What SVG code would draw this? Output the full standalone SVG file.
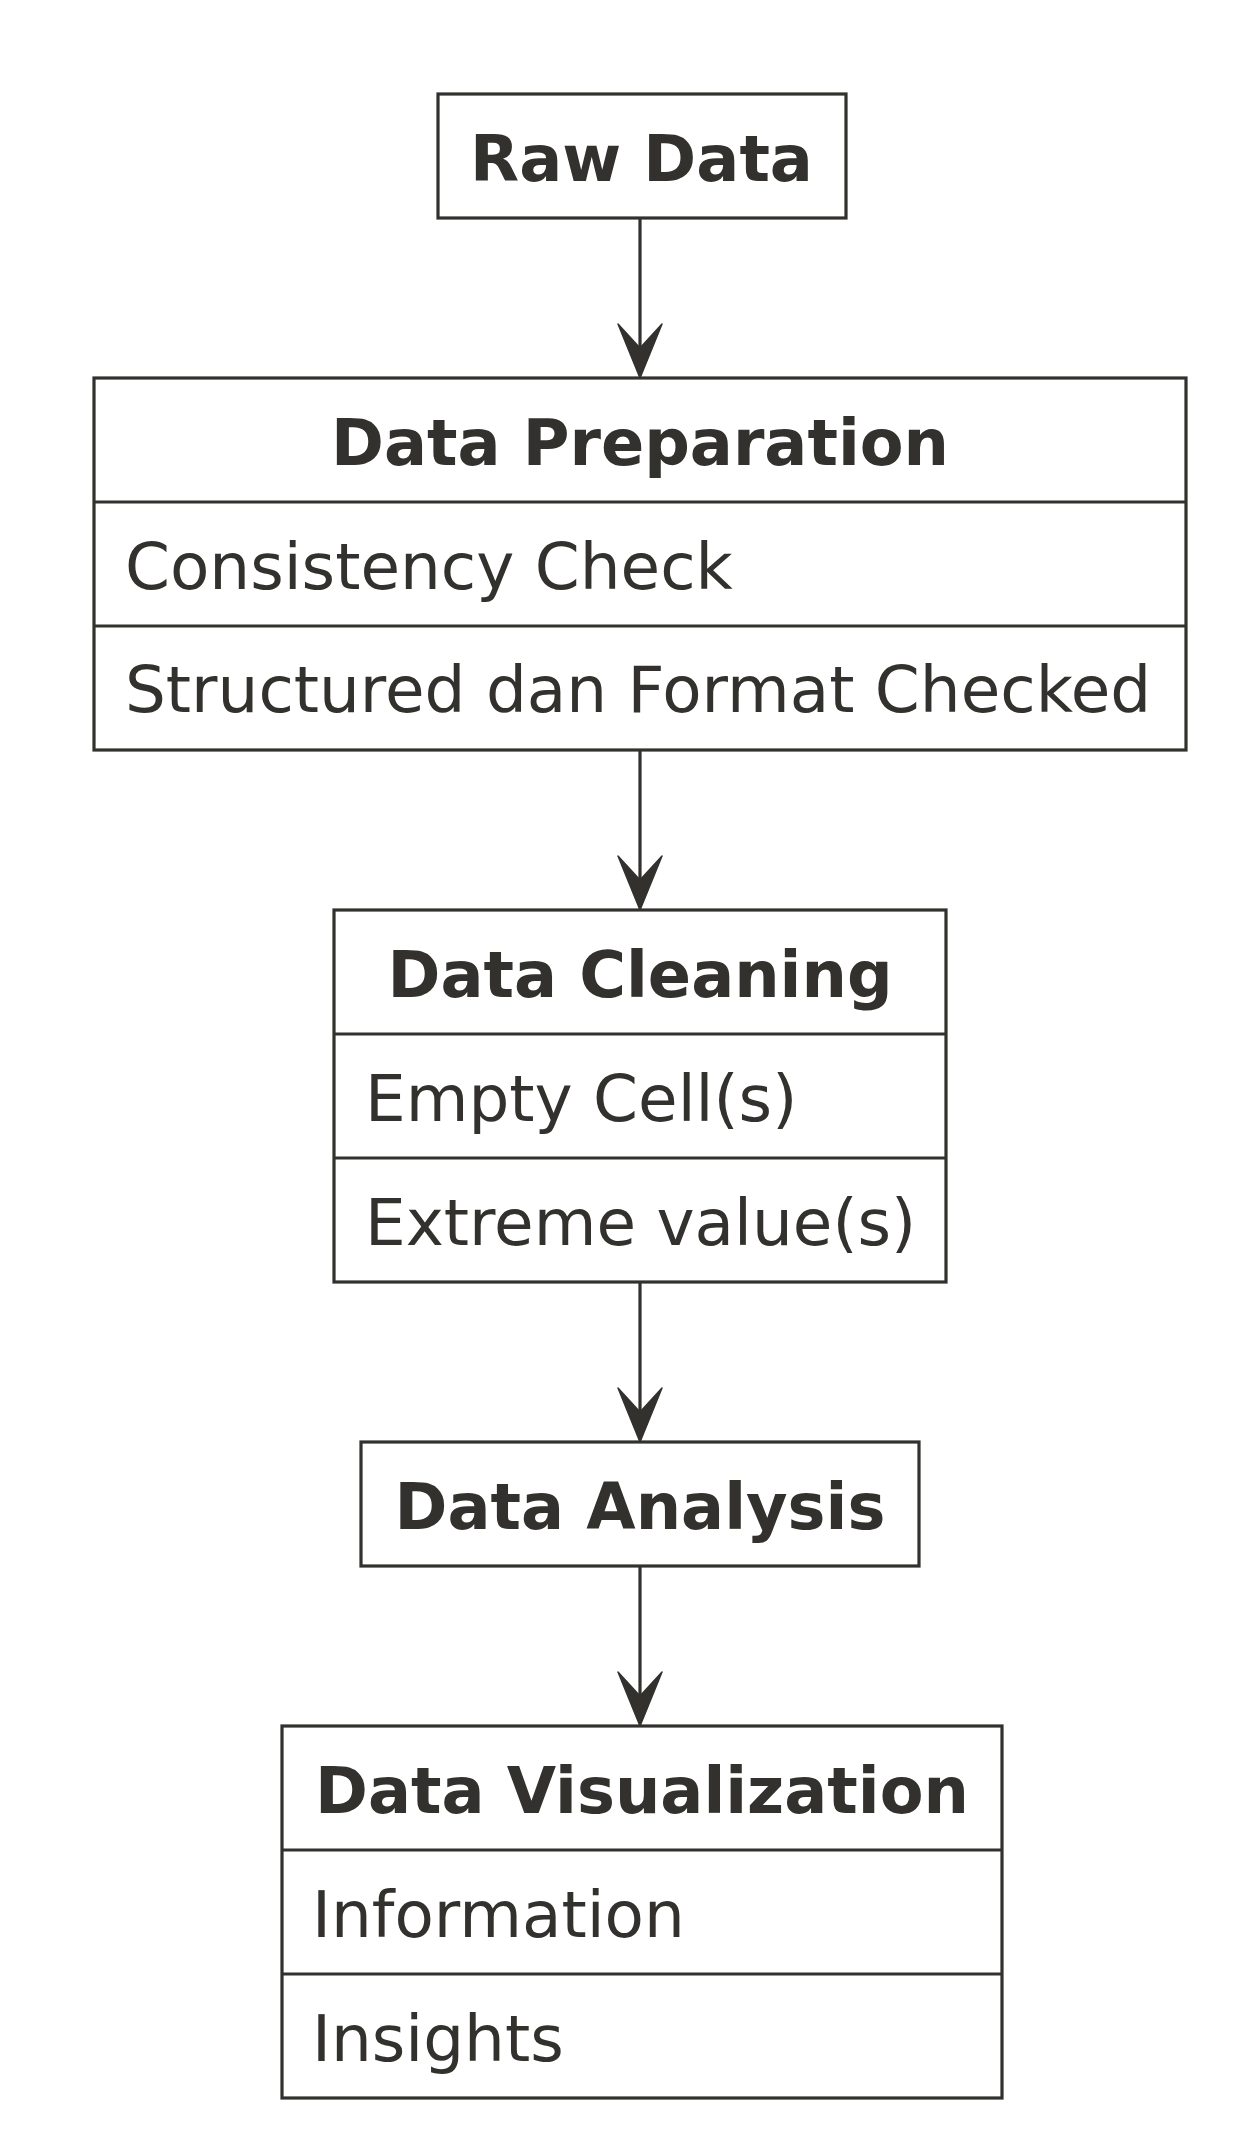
<svg xmlns="http://www.w3.org/2000/svg" width="1236" height="2152" viewBox="0 0 1236 2152">
<defs>
<style>
.box{fill:#ffffff;stroke:#33312d;stroke-width:3.2}
.div{stroke:#33312d;stroke-width:3.2;fill:none}
.title{font-family:"DejaVu Sans",sans-serif;font-size:63.8px;font-weight:bold;fill:#33312d;text-anchor:middle}
.item{font-family:"DejaVu Sans",sans-serif;font-size:64.4px;fill:#33312d}
.edge{stroke:#33312d;stroke-width:3.2;fill:none}
</style>
<marker id="arrow" markerUnits="userSpaceOnUse" viewBox="-30 -26 62 52" refX="0" refY="0" markerWidth="62" markerHeight="52" orient="auto">
<path d="M30,0 L-24,-22 L0,0 L-24,22 Z" fill="#33312d" stroke="#33312d" stroke-width="1.5" stroke-linejoin="round"/>
</marker>
</defs>
<rect x="0" y="0" width="1236" height="2152" fill="#ffffff"/>
<g id="connectors">
<path class="edge" d="M640,218 V348" marker-end="url(#arrow)"/>
<path class="edge" d="M640,750 V880" marker-end="url(#arrow)"/>
<path class="edge" d="M640,1282 V1412" marker-end="url(#arrow)"/>
<path class="edge" d="M640,1566 V1696" marker-end="url(#arrow)"/>
</g>
<g id="raw-data">
<rect class="box" x="438" y="94" width="408" height="124"/>
<text class="title" x="641.5" y="180.5">Raw Data</text>
</g>
<g id="data-preparation">
<rect class="box" x="94" y="378" width="1092" height="372"/>
<line class="div" x1="94" y1="502" x2="1186" y2="502"/>
<line class="div" x1="94" y1="626" x2="1186" y2="626"/>
<text class="title" x="640" y="464.5">Data Preparation</text>
<text class="item" x="125" y="588.5">Consistency Check</text>
<text class="item" x="125" y="712">Structured dan Format Checked</text>
</g>
<g id="data-cleaning">
<rect class="box" x="334" y="910" width="612" height="372"/>
<line class="div" x1="334" y1="1034" x2="946" y2="1034"/>
<line class="div" x1="334" y1="1158" x2="946" y2="1158"/>
<text class="title" x="640" y="996.5">Data Cleaning</text>
<text class="item" x="365" y="1120.5">Empty Cell(s)</text>
<text class="item" x="365" y="1244.5">Extreme value(s)</text>
</g>
<g id="data-analysis">
<rect class="box" x="361" y="1442" width="558" height="124"/>
<text class="title" x="640" y="1528.5">Data Analysis</text>
</g>
<g id="data-visualization">
<rect class="box" x="282" y="1726" width="720" height="372"/>
<line class="div" x1="282" y1="1850" x2="1002" y2="1850"/>
<line class="div" x1="282" y1="1974" x2="1002" y2="1974"/>
<text class="title" x="642" y="1812.5">Data Visualization</text>
<text class="item" x="312" y="1936.5">Information</text>
<text class="item" x="312" y="2060.5">Insights</text>
</g>
</svg>
